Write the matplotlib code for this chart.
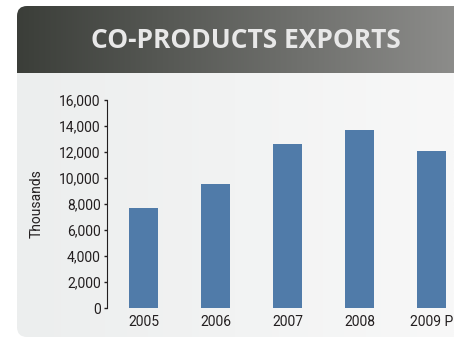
import matplotlib.pyplot as plt
import numpy as np
from matplotlib.patches import FancyBboxPatch
from matplotlib.colors import LinearSegmentedColormap

years = ["2005", "2006", "2007", "2008", "2009 P"]
exports = [7700, 9550, 12600, 13700, 12100]  # thousands
yticks = [0, 2000, 4000, 6000, 8000, 10000, 12000, 14000, 16000]

lab = ["Roboto", "DejaVu Sans"]

W, H = 454, 341
fig = plt.figure(figsize=(W / 100, H / 100), dpi=100)
fig.patch.set_facecolor("white")

# background panel in pixel coordinates
bg = fig.add_axes([0, 0, 1, 1])
bg.set_xlim(0, W)
bg.set_ylim(H, 0)
bg.axis("off")

panel = FancyBboxPatch((17, 6), 480, 331, boxstyle="round,pad=0,rounding_size=10",
                       facecolor="none", edgecolor="none")
bg.add_patch(panel)

grad = np.linspace(0, 1, 256).reshape(1, -1)
im1 = bg.imshow(grad, extent=[17, W, 337, 73], aspect="auto",
                cmap=LinearSegmentedColormap.from_list("b", ["#eceeee", "#f8f8f8"]))
im1.set_clip_path(panel)
im2 = bg.imshow(grad, extent=[17, W, 73, 6], aspect="auto",
                cmap=LinearSegmentedColormap.from_list("h", ["#3b3e39", "#8c8c8a"]))
im2.set_clip_path(panel)

bg.text(246, 41, "CO-PRODUCTS EXPORTS", color="#e8e8e8", fontsize=19,
        fontweight="bold", family="Open Sans", ha="center", va="center")

# chart
ax = fig.add_axes([107 / W, (H - 308) / H, (W - 107) / W, 208 / H])
ax.set_facecolor("none")
x = np.arange(len(years))
ax.bar(x, exports, width=0.4, color="#507ba9")
ax.set_xlim(-0.507, 4.31)
ax.set_ylim(0, 16000)
ax.set_yticks(yticks)
ax.set_yticklabels([f"{v:,}" for v in yticks], family=lab, fontsize=10)
ax.set_xticks(x)
ax.set_xticklabels(years, family=lab, fontsize=10)
for s in ["top", "right", "bottom"]:
    ax.spines[s].set_visible(False)
ax.spines["left"].set_color("#231f20")
ax.tick_params(axis="y", length=2.5, width=1, color="#231f20", pad=2,
               labelcolor="#231f20")
ax.tick_params(axis="x", length=0, pad=5, labelcolor="#231f20")
ax.set_ylabel("Thousands", fontsize=10, family=lab, color="#231f20",
              labelpad=11)

fig.savefig("out.png", dpi=100)
